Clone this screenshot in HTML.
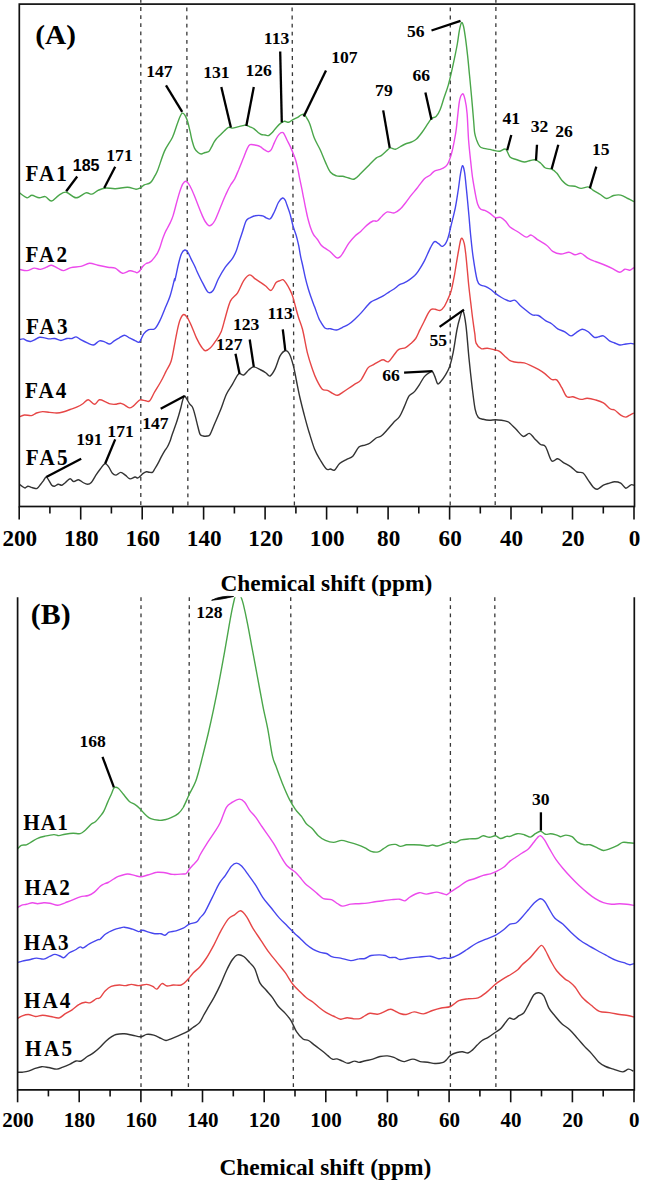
<!DOCTYPE html><html><head><meta charset="utf-8"><style>html,body{margin:0;padding:0;background:#fff;}svg{display:block;}text{font-family:"Liberation Serif",serif;font-weight:bold;fill:#000;}</style></head><body>
<svg width="653" height="1182" viewBox="0 0 653 1182">
<rect width="653" height="1182" fill="#fff"/>
<defs><clipPath id="cb"><rect x="0" y="597.3" width="653" height="600"/></clipPath></defs>
<line x1="140.8" y1="0.0" x2="140.8" y2="506" stroke-dashoffset="1.0" stroke="#383838" stroke-width="1.3" stroke-dasharray="3.8,4.3" fill="none"/>
<line x1="186.8" y1="4.5" x2="187.9" y2="506" stroke-dashoffset="-3.0" stroke="#383838" stroke-width="1.3" stroke-dasharray="3.8,4.3" fill="none"/>
<line x1="292.1" y1="4.5" x2="294.4" y2="506" stroke-dashoffset="-3.0" stroke="#383838" stroke-width="1.3" stroke-dasharray="3.8,4.3" fill="none"/>
<line x1="450.3" y1="4.5" x2="450.2" y2="506" stroke-dashoffset="-3.0" stroke="#383838" stroke-width="1.3" stroke-dasharray="3.8,4.3" fill="none"/>
<line x1="495.9" y1="0.0" x2="495.2" y2="506" stroke-dashoffset="1.0" stroke="#383838" stroke-width="1.3" stroke-dasharray="3.8,4.3" fill="none"/>
<line x1="141.0" y1="597.2" x2="141.0" y2="1089" stroke="#383838" stroke-width="1.3" stroke-dasharray="3.8,4.3" fill="none"/>
<line x1="189.3" y1="597.2" x2="188.4" y2="1089" stroke="#383838" stroke-width="1.3" stroke-dasharray="3.8,4.3" fill="none"/>
<line x1="290.7" y1="597.2" x2="293.4" y2="1089" stroke="#383838" stroke-width="1.3" stroke-dasharray="3.8,4.3" fill="none"/>
<line x1="450.4" y1="597.2" x2="450.4" y2="1089" stroke="#383838" stroke-width="1.3" stroke-dasharray="3.8,4.3" fill="none"/>
<line x1="494.8" y1="597.2" x2="495.9" y2="1089" stroke="#383838" stroke-width="1.3" stroke-dasharray="3.8,4.3" fill="none"/>
<path d="M19.6,192.9 C20.8,193.7 24.9,197.4 27.0,197.8 C29.1,198.2 29.9,195.3 31.9,195.3 C33.9,195.3 37.0,197.6 39.2,197.8 C41.4,198.0 43.2,196.1 45.3,196.6 C47.3,197.1 49.2,201.2 51.5,201.0 C53.8,200.8 56.3,196.8 58.8,195.3 C61.2,193.8 63.3,191.8 66.2,192.2 C69.1,192.6 72.7,197.7 76.0,197.8 C79.3,197.9 83.1,193.5 85.8,192.9 C88.5,192.3 89.9,194.5 91.9,194.1 C93.9,193.7 95.8,191.4 98.0,190.4 C100.2,189.4 102.5,188.3 105.4,188.0 C108.3,187.7 111.5,188.8 115.2,188.7 C118.9,188.6 124.0,187.2 127.5,187.3 C131.0,187.4 133.8,189.1 136.0,189.2 C138.2,189.3 139.2,188.4 140.6,187.7 C142.0,187.0 142.9,185.6 144.3,184.9 C145.7,184.2 147.8,184.1 149.0,183.5 C150.2,182.9 150.7,182.5 151.7,181.2 C152.7,179.9 154.0,177.5 155.0,175.6 C156.0,173.7 156.2,174.0 157.8,170.0 C159.4,166.0 162.0,156.9 164.4,151.4 C166.8,145.9 170.3,141.9 172.5,137.2 C174.7,132.4 176.0,126.9 177.6,122.9 C179.2,118.9 180.7,113.9 182.2,113.2 C183.7,112.5 185.4,115.9 186.7,118.9 C188.0,121.9 189.1,127.6 190.0,131.2 C190.9,134.8 191.2,137.4 192.0,140.3 C192.8,143.2 193.6,146.4 194.6,148.4 C195.6,150.4 197.0,151.6 198.1,152.5 C199.2,153.4 200.0,154.0 201.2,154.0 C202.4,154.0 203.9,152.9 205.2,152.5 C206.5,152.1 207.8,152.3 208.8,151.5 C209.8,150.7 210.5,148.9 211.3,147.4 C212.2,145.9 213.1,143.7 213.9,142.3 C214.8,140.9 215.3,140.1 216.4,138.8 C217.5,137.5 219.2,136.0 220.5,134.7 C221.8,133.3 223.2,131.9 224.5,130.7 C225.8,129.5 227.2,127.7 228.6,127.3 C229.9,126.9 231.1,128.2 232.6,128.1 C234.1,128.0 236.0,127.3 237.7,126.9 C239.4,126.5 241.5,125.9 242.8,125.6 C244.2,125.3 244.6,124.9 245.8,125.1 C247.0,125.3 248.6,126.3 250.0,126.9 C251.4,127.5 252.8,128.0 254.1,128.9 C255.4,129.8 256.9,131.6 258.1,132.5 C259.3,133.4 260.0,134.1 261.2,134.5 C262.4,134.9 263.9,134.8 265.2,135.0 C266.5,135.2 267.6,135.9 268.8,135.5 C270.0,135.1 271.0,133.8 272.3,132.5 C273.6,131.2 275.0,128.9 276.4,127.4 C277.8,125.9 279.1,124.4 280.5,123.4 C281.9,122.4 283.1,121.5 284.5,121.3 C285.9,121.1 287.2,122.5 288.6,122.3 C290.0,122.0 291.1,120.6 292.6,119.8 C294.1,119.0 296.3,118.1 297.7,117.3 C299.1,116.5 299.8,115.7 300.8,115.2 C301.8,114.7 302.8,113.7 303.8,114.2 C304.8,114.7 305.9,116.6 306.9,118.3 C307.9,120.0 308.8,121.2 310.0,124.4 C311.2,127.7 312.5,133.5 314.2,137.8 C315.9,142.1 318.4,145.9 320.3,150.0 C322.2,154.1 323.7,158.4 325.4,162.1 C327.1,165.8 328.6,170.0 330.5,172.3 C332.4,174.6 334.5,175.2 336.5,175.9 C338.5,176.6 340.6,176.0 342.6,176.3 C344.6,176.7 346.7,177.6 348.7,178.0 C350.7,178.4 352.4,179.8 354.4,179.0 C356.4,178.2 358.5,175.6 360.9,173.3 C363.3,171.0 366.5,167.7 369.0,165.2 C371.5,162.7 374.1,159.7 376.1,158.1 C378.1,156.5 379.5,156.8 381.2,155.6 C382.9,154.4 384.8,152.3 386.3,151.0 C387.8,149.7 388.9,148.2 390.4,147.9 C391.9,147.6 393.7,149.5 395.4,149.3 C397.1,149.1 398.9,147.4 400.5,146.5 C402.1,145.6 403.5,144.8 405.3,144.0 C407.1,143.2 409.5,142.8 411.4,142.0 C413.3,141.2 414.7,140.7 416.5,139.0 C418.3,137.3 420.3,134.7 422.3,132.0 C424.3,129.3 426.8,125.1 428.4,122.8 C430.0,120.5 430.7,119.1 432.0,118.1 C433.3,117.1 434.7,118.0 436.1,116.6 C437.5,115.2 438.9,112.7 440.2,109.5 C441.5,106.3 442.8,101.4 444.2,97.3 C445.6,93.2 447.1,89.2 448.3,85.1 C449.5,81.0 450.3,77.3 451.3,72.9 C452.3,68.5 453.4,63.6 454.4,58.7 C455.4,53.8 456.6,48.2 457.4,43.5 C458.2,38.8 458.7,33.8 459.4,30.3 C460.1,26.8 460.8,23.4 461.5,22.7 C462.2,22.0 462.8,23.6 463.5,26.2 C464.2,28.8 464.8,33.5 465.5,38.4 C466.2,43.3 466.9,49.4 467.6,55.7 C468.3,62.0 468.9,69.1 469.6,76.0 C470.3,82.9 470.9,89.7 471.6,97.3 C472.3,104.9 473.2,115.7 473.7,121.7 C474.2,127.7 474.2,130.1 474.7,133.2 C475.2,136.3 475.9,138.1 476.7,140.3 C477.5,142.5 478.5,145.1 479.7,146.4 C480.9,147.8 482.1,147.9 483.8,148.4 C485.5,148.9 488.4,149.1 490.0,149.4 C491.6,149.7 491.8,150.0 493.4,150.3 C495.0,150.6 497.5,151.5 499.5,151.3 C501.5,151.1 503.9,148.3 505.6,149.2 C507.4,150.1 508.2,155.2 510.0,156.9 C511.8,158.6 513.7,158.7 516.1,159.5 C518.5,160.3 521.8,161.8 524.2,162.0 C526.6,162.2 528.4,160.8 530.3,160.5 C532.2,160.2 533.7,159.5 535.4,159.9 C537.1,160.3 538.8,161.7 540.5,163.0 C542.2,164.3 543.6,167.0 545.5,168.0 C547.4,169.0 549.7,168.2 551.6,169.1 C553.5,169.9 555.0,171.2 556.7,173.1 C558.4,174.9 559.9,178.2 561.8,180.2 C563.7,182.2 565.7,184.3 567.9,185.3 C570.1,186.3 572.8,185.8 575.0,186.3 C577.2,186.8 578.9,188.3 581.1,188.4 C583.3,188.5 586.2,186.6 588.2,186.9 C590.2,187.2 591.3,189.1 593.3,190.4 C595.3,191.7 598.2,193.2 600.4,194.5 C602.6,195.8 604.3,198.3 606.5,198.5 C608.7,198.7 611.2,196.1 613.6,195.5 C616.0,194.9 618.3,194.6 620.7,195.1 C623.1,195.6 625.6,197.4 627.8,198.5 C630.0,199.6 632.9,201.1 633.9,201.6" fill="none" stroke="#4aa64a" stroke-width="1.40" stroke-linejoin="round"/>
<path d="M19.6,269.4 C20.8,269.6 24.6,270.8 27.0,270.6 C29.4,270.4 32.1,268.3 34.3,268.1 C36.5,267.9 38.3,269.5 40.4,269.4 C42.5,269.2 44.8,267.9 46.6,267.2 C48.5,266.5 49.7,265.0 51.5,265.2 C53.3,265.4 55.6,267.2 57.6,268.1 C59.6,269.0 61.5,270.7 63.7,270.6 C65.9,270.5 68.1,268.3 71.0,267.6 C73.9,266.9 77.8,267.1 80.9,266.4 C84.0,265.7 86.7,263.4 89.5,263.2 C92.3,263.0 95.0,264.5 98.0,265.2 C101.0,265.9 104.9,266.7 107.8,267.2 C110.7,267.7 112.8,267.1 115.2,268.1 C117.7,269.1 120.0,272.9 122.5,273.3 C125.0,273.8 127.8,271.0 129.9,270.8 C132.0,270.6 133.8,271.6 135.0,271.9 C136.2,272.2 136.2,272.9 136.9,272.8 C137.6,272.7 138.5,272.0 139.2,271.4 C139.9,270.8 140.3,270.0 141.0,269.1 C141.7,268.2 142.5,266.7 143.4,265.8 C144.3,264.9 145.3,264.0 146.2,263.5 C147.1,263.0 148.1,263.1 149.0,262.6 C149.9,262.1 150.8,261.6 151.7,260.7 C152.6,259.8 153.6,258.6 154.5,257.4 C155.4,256.2 156.4,254.9 157.3,253.3 C158.2,251.8 158.9,250.2 159.7,248.1 C160.5,246.0 161.2,243.2 162.0,240.7 C162.8,238.2 163.9,235.5 164.8,233.3 C165.7,231.1 166.7,229.5 167.6,227.7 C168.5,225.9 169.4,224.6 170.3,222.6 C171.2,220.6 172.2,218.5 173.1,215.6 C174.0,212.7 175.0,208.7 175.9,205.3 C176.8,201.9 177.8,198.2 178.7,195.1 C179.6,192.0 180.6,188.9 181.5,186.7 C182.4,184.5 183.5,182.9 184.3,182.1 C185.2,181.2 185.7,180.9 186.6,181.6 C187.5,182.2 188.8,183.8 190.0,186.0 C191.2,188.2 192.8,191.9 194.1,195.1 C195.4,198.3 196.8,201.9 198.1,205.3 C199.4,208.7 201.0,212.7 202.2,215.4 C203.4,218.1 204.1,219.8 205.2,221.5 C206.3,223.2 207.7,225.1 208.8,225.6 C209.9,226.1 210.8,225.4 211.8,224.6 C212.8,223.8 213.8,222.5 214.9,220.5 C216.0,218.5 217.1,215.5 218.4,212.4 C219.7,209.3 221.2,205.4 222.5,202.2 C223.8,199.0 225.2,196.0 226.5,193.1 C227.8,190.2 229.2,187.4 230.6,185.0 C232.0,182.6 233.3,181.5 234.7,178.9 C236.0,176.3 237.3,172.9 238.7,169.7 C240.0,166.5 241.4,163.0 242.8,159.6 C244.2,156.2 245.7,151.9 246.9,149.4 C248.1,146.9 248.5,145.4 250.0,144.7 C251.5,144.0 254.4,144.9 256.1,145.2 C257.8,145.5 258.9,145.9 260.2,146.7 C261.5,147.4 262.8,148.8 264.2,149.7 C265.6,150.5 267.1,151.8 268.3,151.8 C269.5,151.8 270.3,151.2 271.3,149.7 C272.3,148.2 273.4,144.8 274.4,142.6 C275.4,140.4 276.4,138.1 277.4,136.5 C278.4,134.9 279.5,133.6 280.5,133.0 C281.5,132.4 282.4,131.8 283.5,133.0 C284.6,134.2 285.9,137.8 287.0,140.0 C288.1,142.2 289.1,143.9 290.1,146.1 C291.1,148.3 292.2,150.8 293.1,153.2 C294.0,155.6 294.9,157.8 295.7,160.3 C296.5,162.8 297.0,165.4 297.7,168.4 C298.4,171.4 299.0,175.2 299.7,178.6 C300.4,182.0 301.1,185.3 301.8,188.7 C302.5,192.1 303.1,195.5 303.8,198.9 C304.5,202.3 305.1,205.8 305.8,209.0 C306.5,212.2 307.0,215.1 307.8,218.2 C308.6,221.2 309.5,224.6 310.4,227.3 C311.3,230.0 312.2,232.4 313.4,234.4 C314.6,236.4 316.1,237.6 317.5,239.5 C318.9,241.4 320.2,244.2 321.5,245.6 C322.8,247.0 323.6,247.1 325.0,248.1 C326.4,249.1 328.2,250.1 329.7,251.3 C331.2,252.5 332.6,254.2 333.8,255.3 C335.0,256.4 335.9,257.6 336.9,257.9 C337.9,258.2 339.1,257.6 340.0,256.9 C340.9,256.2 341.2,255.8 342.6,253.5 C344.1,251.2 346.7,246.3 348.7,243.4 C350.7,240.5 352.8,238.2 354.8,236.2 C356.8,234.2 358.9,233.0 360.9,231.2 C362.9,229.3 365.0,226.8 367.0,225.1 C369.0,223.4 371.4,221.7 373.1,221.0 C374.8,220.3 375.7,221.8 377.2,221.0 C378.7,220.2 380.5,217.5 382.2,216.0 C383.9,214.5 385.3,212.4 387.3,211.9 C389.3,211.4 392.2,213.4 394.4,212.9 C396.6,212.4 398.6,210.5 400.5,208.8 C402.4,207.1 403.7,205.1 405.6,202.7 C407.5,200.3 409.8,197.0 411.7,194.6 C413.6,192.2 414.7,191.2 416.8,188.5 C418.9,185.8 422.2,180.9 424.4,178.7 C426.6,176.5 428.4,176.5 430.0,175.3 C431.6,174.1 432.6,172.2 434.1,171.3 C435.6,170.4 437.6,170.2 439.1,169.7 C440.6,169.2 441.8,169.0 443.2,168.2 C444.6,167.4 446.1,166.5 447.3,164.7 C448.5,162.9 449.5,160.0 450.3,157.6 C451.1,155.2 451.6,153.4 452.3,150.5 C453.0,147.6 453.7,144.0 454.4,140.3 C455.1,136.6 455.6,134.6 456.4,128.1 C457.2,121.6 458.4,107.1 459.4,101.4 C460.4,95.7 461.6,94.2 462.5,93.8 C463.4,93.4 464.2,96.0 465.0,99.3 C465.8,102.6 466.5,106.8 467.1,113.6 C467.7,120.4 468.0,132.5 468.6,140.3 C469.2,148.1 469.9,154.3 470.6,160.6 C471.3,166.9 471.8,172.5 472.6,177.9 C473.4,183.3 474.4,188.7 475.2,193.1 C476.0,197.5 476.8,201.6 477.7,204.3 C478.6,207.0 479.6,208.3 480.8,209.3 C482.0,210.3 483.3,209.7 484.8,210.4 C486.3,211.1 488.2,212.2 490.0,213.4 C491.8,214.6 493.6,217.0 495.4,217.7 C497.1,218.3 498.8,216.7 500.5,217.3 C502.2,217.9 504.0,219.7 505.6,221.3 C507.2,222.9 507.9,225.2 510.0,227.0 C512.1,228.8 515.4,230.3 518.1,232.0 C520.8,233.7 524.0,236.6 526.2,237.1 C528.4,237.6 529.3,234.6 531.3,235.1 C533.3,235.6 535.8,238.5 538.4,240.2 C541.0,241.9 544.2,243.3 546.6,245.2 C549.0,247.0 550.3,249.8 552.7,251.3 C555.1,252.8 558.1,253.8 560.8,254.0 C563.5,254.2 566.5,252.2 568.9,252.3 C571.3,252.4 573.0,254.6 575.0,254.8 C577.0,255.0 578.9,252.8 581.1,253.4 C583.3,254.0 585.8,257.0 588.2,258.4 C590.6,259.8 592.8,260.5 595.3,261.5 C597.8,262.5 600.5,263.3 603.4,264.5 C606.3,265.7 609.9,267.3 612.6,268.6 C615.3,269.9 617.7,272.2 619.7,272.3 C621.7,272.4 623.1,269.6 624.8,269.2 C626.5,268.8 628.3,270.5 629.8,270.2 C631.3,269.9 633.2,268.0 633.9,267.6" fill="none" stroke="#ec4aec" stroke-width="1.40" stroke-linejoin="round"/>
<path d="M19.7,339.5 C20.3,339.4 22.3,338.7 23.4,338.9 C24.5,339.1 25.2,340.1 26.4,340.5 C27.6,340.9 29.1,341.6 30.5,341.5 C31.9,341.4 33.0,340.6 34.5,339.9 C36.0,339.2 37.9,337.6 39.6,337.3 C41.3,337.0 43.0,337.6 44.7,337.9 C46.4,338.2 48.0,338.8 49.7,338.9 C51.4,339.0 52.9,338.2 54.8,338.5 C56.7,338.8 58.9,340.5 60.9,340.5 C62.9,340.5 65.1,338.8 67.0,338.5 C68.9,338.2 70.6,338.8 72.1,338.5 C73.6,338.2 74.6,336.7 76.1,336.9 C77.6,337.1 79.3,338.9 81.2,339.9 C83.1,340.9 85.3,342.0 87.3,342.9 C89.3,343.8 91.4,345.3 93.4,345.0 C95.4,344.7 97.6,341.4 99.5,340.9 C101.4,340.4 102.9,341.4 104.6,341.9 C106.3,342.4 108.0,344.2 109.6,344.0 C111.2,343.8 112.6,341.9 114.2,340.9 C115.8,339.9 117.6,338.8 119.3,337.9 C121.0,336.9 122.7,335.2 124.4,335.2 C126.1,335.2 127.6,336.9 129.4,337.9 C131.2,338.8 133.8,340.2 135.5,340.9 C137.2,341.6 138.2,343.1 139.6,341.9 C141.0,340.7 142.2,335.8 143.7,333.8 C145.2,331.8 146.8,330.6 148.7,329.7 C150.5,328.8 152.9,330.2 154.8,328.7 C156.7,327.2 158.2,324.0 159.9,320.6 C161.6,317.2 163.3,312.5 165.0,308.4 C166.7,304.3 168.4,301.0 170.0,296.2 C171.6,291.4 173.7,282.0 174.5,279.3 C175.3,276.6 174.3,282.7 175.0,280.0 C175.7,277.3 177.6,267.4 178.7,263.0 C179.8,258.6 180.5,255.9 181.5,253.7 C182.5,251.5 183.8,250.3 184.8,250.0 C185.8,249.7 186.6,250.5 187.6,251.9 C188.6,253.3 189.6,255.9 190.8,258.4 C192.0,260.9 194.0,264.6 195.0,266.7 C196.0,268.8 195.6,268.4 196.9,271.2 C198.2,274.0 201.0,279.9 202.9,283.4 C204.8,286.9 206.4,291.0 208.1,292.2 C209.8,293.4 211.4,292.7 213.1,290.5 C214.8,288.3 216.3,282.9 218.3,279.0 C220.3,275.1 222.9,270.6 225.3,267.1 C227.7,263.7 230.6,261.1 232.5,258.3 C234.4,255.5 235.3,253.2 236.5,250.2 C237.7,247.1 238.6,243.2 239.7,240.0 C240.8,236.8 241.8,233.8 242.8,230.7 C243.8,227.6 244.9,223.5 245.8,221.5 C246.7,219.5 247.7,219.1 248.4,218.5 C249.1,217.9 248.9,218.3 250.0,217.8 C251.1,217.3 253.1,216.0 255.1,215.7 C257.1,215.3 260.3,215.3 262.2,215.7 C264.1,216.0 264.8,217.3 266.2,217.8 C267.6,218.3 268.9,219.8 270.3,218.8 C271.7,217.8 273.0,214.4 274.4,211.7 C275.8,209.0 277.0,204.8 278.4,202.5 C279.8,200.2 281.4,198.4 282.5,198.0 C283.6,197.6 284.2,198.7 285.0,199.9 C285.8,201.1 286.1,202.6 287.0,205.0 C287.9,207.4 289.1,210.5 290.1,214.1 C291.1,217.7 292.1,222.8 293.1,226.3 C294.1,229.9 295.3,232.2 296.2,235.4 C297.1,238.6 297.9,242.0 298.7,245.6 C299.4,249.2 300.0,253.4 300.7,256.8 C301.4,260.2 302.0,262.4 302.8,266.0 C303.6,269.6 304.5,274.3 305.4,278.2 C306.3,282.1 307.4,285.9 308.4,289.3 C309.4,292.7 310.5,295.6 311.5,298.5 C312.5,301.4 313.3,303.4 314.5,306.6 C315.7,309.8 317.6,315.4 318.6,317.8 C319.6,320.2 319.2,319.4 320.3,321.2 C321.4,322.9 323.7,327.1 325.4,328.3 C327.1,329.6 328.6,328.4 330.5,328.7 C332.4,329.0 334.5,330.2 336.5,330.0 C338.5,329.8 340.6,328.2 342.6,327.3 C344.6,326.4 346.7,325.7 348.7,324.3 C350.7,322.9 352.8,321.1 354.8,319.2 C356.8,317.3 358.9,315.3 360.9,313.1 C362.9,310.9 365.3,307.9 367.0,306.0 C368.7,304.1 369.4,303.1 371.1,301.9 C372.8,300.7 375.2,299.9 377.2,298.9 C379.2,297.9 381.2,297.0 383.2,295.8 C385.2,294.6 387.4,293.0 389.3,291.8 C391.2,290.6 392.7,289.9 394.4,288.7 C396.1,287.5 397.8,285.7 399.5,284.7 C401.2,283.7 402.9,283.5 404.6,282.6 C406.3,281.8 407.9,280.8 409.6,279.6 C411.3,278.4 413.2,276.9 414.7,275.5 C416.1,274.1 416.7,273.5 418.3,271.1 C419.9,268.7 422.4,264.8 424.4,260.9 C426.4,257.0 428.8,250.9 430.5,247.7 C432.2,244.5 433.1,242.3 434.5,241.6 C435.9,240.9 437.2,242.9 438.6,243.7 C440.0,244.5 441.2,246.9 442.6,246.3 C444.1,245.7 445.9,243.6 447.3,240.0 C448.8,236.4 450.0,230.0 451.3,224.6 C452.6,219.2 454.2,213.2 455.4,207.3 C456.6,201.4 457.5,194.6 458.4,189.0 C459.2,183.4 459.8,177.7 460.5,173.8 C461.2,169.9 461.8,166.0 462.5,165.7 C463.2,165.4 463.9,168.6 464.5,171.8 C465.1,175.0 465.5,180.1 466.0,185.0 C466.5,189.9 467.1,195.8 467.6,201.2 C468.1,206.6 468.6,211.9 469.1,217.5 C469.6,223.1 469.9,228.1 470.6,234.7 C471.3,241.3 472.0,249.3 473.1,256.9 C474.2,264.5 475.9,275.5 477.2,280.2 C478.5,284.9 479.8,284.3 481.2,285.3 C482.6,286.3 483.8,285.6 485.3,286.3 C486.8,287.0 488.7,288.1 490.4,289.3 C492.1,290.5 493.5,292.0 495.4,293.4 C497.2,294.8 499.5,296.3 501.5,297.5 C503.5,298.7 506.2,299.9 507.6,300.5 C509.0,301.1 508.8,301.3 510.0,301.3 C511.2,301.3 513.4,299.6 515.1,300.3 C516.8,301.0 518.3,303.7 520.2,305.4 C522.1,307.1 524.3,308.9 526.3,310.5 C528.3,312.1 530.3,314.1 532.3,314.9 C534.3,315.7 536.2,314.6 538.4,315.5 C540.6,316.4 543.3,319.2 545.5,320.6 C547.7,322.0 549.6,322.3 551.6,323.7 C553.6,325.1 555.5,327.4 557.7,328.8 C559.9,330.2 562.6,330.6 564.8,331.8 C567.0,333.0 569.0,335.7 570.9,335.9 C572.8,336.1 574.1,333.9 576.0,332.8 C577.9,331.7 580.1,329.4 582.1,329.2 C584.1,329.0 586.2,330.4 588.2,331.8 C590.2,333.2 592.6,336.5 594.3,337.3 C596.0,338.1 596.9,337.1 598.4,336.9 C599.9,336.7 601.5,335.2 603.4,335.9 C605.2,336.6 607.6,339.7 609.5,340.9 C611.4,342.1 612.9,342.3 614.6,343.0 C616.3,343.7 617.8,344.8 619.7,345.0 C621.6,345.2 623.9,344.3 625.8,344.0 C627.7,343.7 629.5,343.4 630.9,343.4 C632.2,343.4 633.4,343.9 633.9,344.0" fill="none" stroke="#4646ee" stroke-width="1.40" stroke-linejoin="round"/>
<path d="M19.7,416.7 C20.5,416.4 22.4,415.2 24.4,415.0 C26.4,414.8 29.5,415.9 31.5,415.6 C33.5,415.3 34.6,413.7 36.5,413.0 C38.4,412.3 40.4,411.7 42.6,411.6 C44.8,411.5 47.3,412.2 49.7,412.4 C52.1,412.6 54.7,413.1 56.9,413.0 C59.1,412.9 60.7,412.6 62.9,412.0 C65.1,411.4 67.7,410.4 70.1,409.5 C72.5,408.6 75.0,407.9 77.2,406.9 C79.4,405.9 81.4,404.7 83.2,403.5 C85.0,402.3 86.4,399.7 88.3,399.8 C90.2,399.9 92.5,404.3 94.4,404.3 C96.3,404.3 97.6,400.2 99.5,399.8 C101.4,399.4 103.8,401.1 105.6,401.8 C107.4,402.5 108.6,403.5 110.2,403.9 C111.8,404.3 113.5,404.4 115.2,404.3 C116.9,404.2 118.8,403.1 120.3,403.2 C121.8,403.3 122.9,404.1 124.4,404.9 C125.9,405.7 127.9,407.7 129.4,407.9 C130.9,408.1 132.1,406.9 133.5,405.9 C134.9,404.9 136.4,402.8 137.6,401.8 C138.8,400.8 139.2,400.0 140.6,399.8 C141.9,399.6 144.2,400.6 145.7,400.8 C147.2,401.0 148.2,402.3 149.7,400.8 C151.2,399.3 152.9,394.9 154.8,391.7 C156.7,388.5 159.0,384.9 160.9,381.5 C162.8,378.1 164.3,374.8 166.0,371.4 C167.7,368.0 169.8,365.3 171.1,361.2 C172.4,357.1 173.1,352.1 174.1,347.0 C175.1,341.9 176.2,335.4 177.2,330.8 C178.2,326.2 179.1,322.3 180.2,319.6 C181.3,316.9 182.5,314.8 183.7,314.5 C184.9,314.2 186.0,315.7 187.3,317.6 C188.6,319.5 189.9,322.3 191.4,325.7 C192.9,329.1 194.7,334.3 196.4,337.9 C198.1,341.4 200.0,344.9 201.5,347.0 C203.0,349.1 203.8,350.6 205.3,350.7 C206.8,350.8 208.7,349.5 210.5,347.8 C212.3,346.1 214.1,343.4 215.9,340.7 C217.7,338.0 219.7,335.3 221.3,331.4 C222.9,327.5 223.9,322.3 225.4,317.2 C226.9,312.1 228.5,305.0 230.5,300.9 C232.5,296.8 235.4,296.2 237.6,292.8 C239.8,289.4 241.7,283.6 243.7,280.6 C245.7,277.6 247.8,275.2 249.7,274.9 C251.5,274.6 252.9,277.3 254.8,278.6 C256.7,279.9 259.0,281.3 260.9,282.6 C262.8,283.9 264.3,285.0 266.0,286.3 C267.7,287.6 269.4,291.0 271.1,290.4 C272.8,289.8 274.6,284.2 276.1,282.6 C277.6,281.0 278.9,281.2 280.0,280.7 C281.1,280.2 282.0,279.3 283.0,279.7 C284.0,280.1 284.9,281.4 286.1,283.2 C287.3,285.0 289.1,288.2 290.2,290.4 C291.3,292.6 291.9,293.9 292.7,296.4 C293.5,298.9 294.3,302.2 295.2,305.6 C296.1,309.0 297.1,312.9 298.3,316.8 C299.5,320.8 300.9,323.2 302.5,329.3 C304.1,335.4 305.9,346.9 307.6,353.7 C309.3,360.5 311.2,365.6 312.7,370.0 C314.2,374.4 315.2,376.9 316.8,380.1 C318.4,383.3 320.5,387.5 322.3,389.2 C324.1,390.9 325.7,389.6 327.4,390.3 C329.1,391.0 330.8,392.5 332.5,393.3 C334.2,394.1 335.9,395.5 337.6,395.3 C339.3,395.1 340.8,393.5 342.6,392.3 C344.5,391.1 346.7,389.6 348.7,388.2 C350.7,386.8 352.8,385.5 354.8,384.2 C356.8,382.9 358.7,382.8 360.9,380.1 C363.1,377.4 366.0,370.4 368.0,367.9 C370.0,365.4 371.4,365.9 373.1,364.9 C374.8,363.9 376.5,362.6 378.2,361.8 C379.9,361.0 381.5,359.8 383.2,359.8 C384.9,359.8 386.6,362.5 388.3,361.8 C390.0,361.1 391.7,357.7 393.4,355.7 C395.1,353.7 396.5,351.0 398.5,349.6 C400.5,348.2 403.6,348.6 405.6,347.6 C407.6,346.6 409.0,345.1 410.7,343.6 C412.4,342.1 414.1,340.8 415.7,338.5 C417.2,336.2 418.6,332.4 420.0,329.6 C421.4,326.8 422.8,324.2 424.1,321.5 C425.5,318.8 426.9,315.4 428.1,313.4 C429.3,311.4 430.0,310.0 431.2,309.3 C432.4,308.6 433.7,309.1 435.2,309.3 C436.7,309.5 438.8,310.9 440.3,310.4 C441.8,309.9 443.2,308.0 444.4,306.3 C445.6,304.6 446.4,302.4 447.4,300.2 C448.4,298.0 449.6,295.6 450.5,293.1 C451.4,290.6 451.8,288.1 452.5,285.0 C453.2,281.9 453.8,278.5 454.5,274.8 C455.2,271.1 455.8,266.7 456.5,262.6 C457.2,258.6 457.9,254.2 458.6,250.5 C459.3,246.8 460.0,242.3 460.6,240.3 C461.2,238.3 461.5,237.8 462.1,238.3 C462.7,238.8 463.6,240.9 464.2,243.4 C464.8,245.9 465.2,249.3 465.7,253.5 C466.2,257.7 466.7,263.4 467.2,268.7 C467.7,273.9 468.1,279.2 468.7,285.0 C469.3,290.8 470.1,297.4 470.8,303.2 C471.5,308.9 472.1,314.4 472.8,319.5 C473.5,324.6 474.2,329.8 474.8,333.7 C475.4,337.6 475.0,340.6 476.1,343.1 C477.2,345.6 479.3,347.8 481.2,348.6 C483.1,349.5 485.1,348.0 487.3,348.2 C489.5,348.4 492.4,349.3 494.4,349.8 C496.4,350.3 497.8,350.3 499.5,351.3 C501.2,352.3 502.9,354.4 504.6,355.9 C506.3,357.4 507.9,359.4 509.6,360.4 C511.3,361.4 513.1,361.6 514.7,362.0 C516.3,362.4 517.4,362.4 519.0,362.5 C520.6,362.6 522.3,362.4 524.2,362.9 C526.1,363.4 527.9,364.2 530.3,365.3 C532.7,366.4 536.0,368.0 538.4,369.4 C540.8,370.8 542.3,371.7 544.5,373.4 C546.7,375.1 549.6,378.4 551.6,379.5 C553.6,380.6 555.0,378.5 556.7,379.9 C558.4,381.3 560.1,384.9 561.8,387.7 C563.5,390.5 565.0,395.3 566.9,396.8 C568.8,398.3 570.6,396.4 573.0,396.8 C575.4,397.2 578.7,399.2 581.1,399.4 C583.5,399.6 584.8,398.1 587.2,398.2 C589.6,398.3 592.6,399.0 595.3,399.8 C598.0,400.6 600.9,401.4 603.4,402.9 C605.9,404.4 608.6,407.8 610.5,409.0 C612.4,410.2 612.9,409.0 614.6,410.0 C616.3,411.0 618.8,413.9 620.7,415.1 C622.6,416.3 624.3,417.1 625.8,417.1 C627.3,417.1 628.4,415.8 629.8,415.1 C631.1,414.4 633.2,413.4 633.9,413.0" fill="none" stroke="#e64646" stroke-width="1.40" stroke-linejoin="round"/>
<path d="M19.6,484.3 C20.1,484.7 21.5,485.9 22.4,486.5 C23.3,487.1 24.2,488.1 25.1,488.0 C26.0,487.9 27.0,486.3 27.9,486.2 C28.8,486.1 29.7,486.8 30.6,487.1 C31.5,487.4 32.3,487.8 33.4,488.0 C34.5,488.2 35.9,489.0 37.1,488.4 C38.3,487.8 39.6,485.6 40.7,484.3 C41.8,483.0 42.6,481.8 43.5,480.6 C44.4,479.4 45.3,477.0 46.2,477.0 C47.1,477.0 48.1,479.2 49.0,480.6 C49.9,482.0 50.9,484.3 51.8,485.2 C52.7,486.1 53.4,486.3 54.5,486.2 C55.6,486.1 57.0,484.5 58.2,484.3 C59.4,484.1 60.7,485.5 61.9,485.2 C63.1,484.9 64.1,483.6 65.5,482.5 C66.9,481.4 68.7,478.9 70.1,478.8 C71.5,478.7 72.4,481.5 73.8,481.6 C75.2,481.8 76.9,479.6 78.4,479.7 C79.9,479.8 81.5,481.7 83.0,482.5 C84.5,483.3 86.2,484.3 87.6,484.3 C89.0,484.3 89.9,484.0 91.3,482.5 C92.7,481.0 94.4,477.4 95.9,475.1 C97.4,472.8 99.0,470.6 100.5,468.7 C102.0,466.8 103.6,464.0 105.0,463.7 C106.4,463.4 107.5,465.3 108.7,466.9 C109.9,468.5 111.2,471.9 112.4,473.3 C113.6,474.7 114.7,475.2 116.1,475.1 C117.5,475.0 119.2,472.4 120.7,472.4 C122.2,472.4 123.8,474.0 125.3,475.1 C126.8,476.2 128.3,478.5 129.9,478.8 C131.5,479.1 133.7,477.1 135.0,477.0 C136.3,476.9 136.8,478.1 137.6,478.0 C138.4,477.9 139.1,477.1 140.0,476.4 C140.9,475.7 141.7,474.4 142.8,473.6 C143.9,472.8 145.3,472.0 146.4,471.8 C147.5,471.6 148.2,472.2 149.2,472.3 C150.2,472.4 151.5,472.9 152.4,472.3 C153.3,471.8 153.7,470.6 154.7,469.0 C155.7,467.4 157.2,464.9 158.4,462.6 C159.6,460.3 161.0,457.3 162.1,455.3 C163.2,453.3 163.9,452.2 164.8,450.7 C165.7,449.2 166.8,448.0 167.6,446.5 C168.4,445.0 169.2,443.2 169.9,441.5 C170.6,439.8 171.0,438.0 171.7,436.0 C172.4,434.0 173.2,431.6 174.0,429.5 C174.8,427.4 175.5,425.4 176.3,423.1 C177.1,420.8 177.8,418.3 178.6,415.7 C179.4,413.1 180.2,410.1 180.9,407.5 C181.6,404.9 182.1,402.0 182.7,400.1 C183.3,398.2 183.9,396.1 184.6,396.0 C185.3,395.9 186.1,397.9 186.9,399.2 C187.7,400.5 188.7,402.5 189.6,403.8 C190.5,405.1 191.6,405.6 192.4,407.0 C193.2,408.4 193.6,410.0 194.2,412.1 C194.8,414.2 195.5,416.9 196.1,419.4 C196.7,421.8 197.2,424.3 197.9,426.8 C198.6,429.3 199.2,432.8 200.1,434.3 C201.0,435.8 202.2,435.7 203.3,436.0 C204.5,436.3 205.9,436.2 207.0,436.0 C208.1,435.8 208.8,436.5 210.0,434.6 C211.2,432.7 212.5,428.8 214.2,424.8 C215.9,420.8 218.3,415.7 220.3,410.6 C222.3,405.5 224.4,398.7 226.4,394.3 C228.4,389.9 230.5,387.6 232.5,384.2 C234.5,380.8 236.7,375.5 238.6,374.0 C240.5,372.5 242.0,375.7 243.7,375.0 C245.4,374.3 247.0,371.4 248.7,370.0 C250.4,368.6 251.8,366.9 253.8,366.9 C255.8,366.9 258.9,369.0 260.9,370.0 C262.9,371.0 264.5,372.0 266.0,373.0 C267.5,374.0 268.6,376.7 270.1,376.0 C271.6,375.3 273.4,372.3 275.1,368.9 C276.8,365.5 278.5,358.7 280.2,355.7 C281.9,352.7 283.8,351.0 285.3,350.7 C286.8,350.4 288.0,351.2 289.3,353.7 C290.6,356.2 292.0,360.5 293.4,365.9 C294.8,371.3 296.4,380.8 297.5,386.2 C298.6,391.6 298.9,393.4 300.0,398.0 C301.1,402.6 302.5,408.3 304.0,414.0 C305.5,419.7 307.2,426.2 309.0,432.0 C310.8,437.8 312.7,444.4 314.5,449.0 C316.3,453.6 318.0,456.2 320.0,459.5 C322.0,462.8 324.6,467.4 326.4,469.0 C328.1,470.6 329.1,468.8 330.5,469.0 C331.9,469.2 333.0,471.0 334.5,470.1 C336.0,469.2 337.6,465.2 339.6,463.4 C341.6,461.6 344.5,460.5 346.7,459.3 C348.9,458.1 350.8,458.2 352.8,456.2 C354.8,454.2 356.9,449.0 358.9,447.1 C360.9,445.2 363.1,445.8 365.0,445.1 C366.9,444.4 368.2,444.2 370.1,443.0 C372.0,441.8 374.2,439.2 376.1,438.0 C378.0,436.8 379.3,437.4 381.2,436.0 C383.1,434.6 385.3,432.0 387.3,429.8 C389.3,427.6 391.4,424.9 393.4,422.7 C395.4,420.5 397.7,419.2 399.5,416.6 C401.3,414.0 402.5,410.6 404.1,407.1 C405.7,403.7 407.4,398.4 409.1,395.9 C410.8,393.4 412.5,393.8 414.2,391.9 C415.9,390.0 417.6,387.4 419.3,384.8 C421.0,382.2 422.7,378.6 424.4,376.6 C426.1,374.6 428.0,373.4 429.4,372.6 C430.8,371.8 431.6,370.9 432.5,371.6 C433.4,372.3 434.0,374.6 434.9,376.6 C435.8,378.6 436.7,383.0 437.6,383.8 C438.6,384.6 439.2,383.2 440.6,381.7 C442.0,380.2 444.2,377.1 445.7,374.6 C447.2,372.1 448.4,370.2 449.7,366.5 C450.9,362.8 452.0,358.4 453.2,352.3 C454.4,346.2 455.8,335.8 456.9,330.0 C458.0,324.2 458.9,321.0 459.9,317.8 C460.9,314.6 461.9,309.4 462.9,310.7 C463.9,312.0 465.0,317.9 466.0,325.9 C467.0,333.8 468.0,348.2 469.0,358.4 C470.0,368.5 471.1,378.4 472.1,386.8 C473.1,395.2 474.1,404.0 475.1,409.1 C476.1,414.2 476.9,415.6 478.2,417.3 C479.5,419.0 481.3,418.8 483.2,419.3 C485.1,419.8 487.3,420.2 489.3,420.3 C491.3,420.4 493.4,419.7 495.4,419.7 C497.4,419.7 499.5,420.0 501.5,420.3 C503.5,420.6 506.2,421.2 507.6,421.7 C509.0,422.2 508.6,421.9 510.0,423.2 C511.4,424.5 513.9,427.1 516.1,429.3 C518.3,431.5 521.0,435.7 523.2,436.4 C525.4,437.1 527.4,433.1 529.3,433.4 C531.2,433.7 532.5,436.5 534.4,438.4 C536.3,440.2 538.6,443.1 540.5,444.5 C542.4,445.9 543.6,443.9 545.5,446.6 C547.4,449.3 549.6,458.8 551.6,460.8 C553.6,462.8 555.7,458.5 557.7,458.8 C559.7,459.1 561.6,461.5 563.8,462.8 C566.0,464.1 568.7,465.4 570.9,466.9 C573.1,468.4 575.0,471.0 577.0,472.0 C579.0,473.0 581.2,471.6 583.1,473.0 C585.0,474.4 586.5,477.7 588.2,480.1 C589.9,482.5 591.8,485.7 593.3,487.2 C594.8,488.7 595.6,489.5 597.3,489.2 C599.0,488.9 601.4,486.2 603.4,485.2 C605.4,484.2 607.6,483.7 609.5,483.1 C611.4,482.5 612.7,481.7 614.6,481.7 C616.5,481.7 618.8,482.0 620.7,483.1 C622.6,484.2 624.1,487.9 625.8,488.2 C627.5,488.5 629.5,485.3 630.9,484.8 C632.2,484.3 633.4,485.1 633.9,485.2" fill="none" stroke="#333333" stroke-width="1.40" stroke-linejoin="round"/>
<path d="M17.5,849.0 C18.1,848.4 19.8,846.1 21.3,845.4 C22.8,844.7 24.7,845.4 26.4,844.8 C28.1,844.2 29.6,843.0 31.5,841.9 C33.4,840.8 35.4,839.2 37.6,838.3 C39.8,837.3 42.0,836.8 44.7,836.2 C47.4,835.6 51.4,834.7 53.8,834.6 C56.2,834.5 57.0,835.7 58.9,835.6 C60.8,835.5 62.6,834.6 65.0,834.2 C67.4,833.8 70.6,833.3 73.1,833.2 C75.6,833.1 78.2,834.1 80.2,833.6 C82.2,833.1 83.4,831.8 85.3,830.2 C87.2,828.6 89.7,825.6 91.4,824.1 C93.1,822.6 93.9,823.1 95.6,821.5 C97.3,819.9 100.1,816.4 101.5,814.6 C102.9,812.8 103.1,812.6 104.1,810.6 C105.1,808.6 106.3,805.4 107.5,802.6 C108.7,799.8 110.4,796.2 111.5,793.7 C112.6,791.2 113.1,788.7 114.2,787.8 C115.3,786.9 116.8,787.1 118.3,788.2 C119.8,789.3 121.6,792.1 123.4,794.3 C125.2,796.5 127.4,799.6 129.4,801.4 C131.4,803.2 133.6,803.5 135.5,804.9 C137.4,806.2 138.9,807.8 140.6,809.5 C142.3,811.2 144.0,813.5 145.7,815.0 C147.4,816.5 148.6,817.8 150.8,818.7 C153.0,819.6 156.5,820.1 158.9,820.3 C161.3,820.5 163.0,820.1 165.0,819.7 C167.0,819.3 168.9,818.7 171.1,817.7 C173.3,816.7 176.2,815.3 178.2,813.6 C180.2,811.9 181.3,810.7 183.2,807.5 C185.0,804.3 187.3,798.5 189.3,794.3 C191.3,790.1 193.6,786.7 195.4,782.1 C197.2,777.5 198.8,771.0 200.0,766.6 C201.2,762.2 201.3,761.3 202.7,755.9 C204.0,750.5 206.3,741.7 208.1,734.0 C209.9,726.3 211.7,718.3 213.5,709.7 C215.3,701.1 217.1,692.1 218.9,682.6 C220.7,673.1 222.8,661.6 224.4,652.8 C226.0,644.0 227.2,636.8 228.4,629.8 C229.6,622.8 230.8,616.1 231.8,610.9 C232.8,605.7 233.9,601.2 234.5,598.7 C235.1,596.2 234.9,597.5 235.5,596.0 C236.1,594.5 237.2,590.0 238.0,590.0 C238.8,590.0 239.7,593.6 240.6,596.0 C241.5,598.4 242.2,599.6 243.3,604.1 C244.4,608.6 246.1,616.3 247.4,623.1 C248.8,629.9 250.1,637.5 251.4,644.7 C252.8,651.9 254.2,659.2 255.5,666.4 C256.9,673.6 258.1,680.8 259.5,688.0 C260.9,695.2 262.2,702.9 263.6,709.7 C265.0,716.5 266.2,720.9 267.7,728.6 C269.2,736.3 271.0,749.6 272.4,755.9 C273.8,762.2 274.5,762.1 276.1,766.6 C277.7,771.1 280.0,777.5 282.2,782.9 C284.4,788.3 287.1,794.7 289.3,799.1 C291.5,803.5 293.4,806.4 295.4,809.3 C297.4,812.2 299.7,814.0 301.5,816.4 C303.3,818.8 304.3,821.5 306.1,823.5 C307.9,825.5 310.2,826.6 312.2,828.6 C314.2,830.6 316.1,833.7 318.3,835.7 C320.5,837.7 322.9,839.3 325.4,840.4 C327.9,841.5 330.8,842.4 333.5,842.4 C336.2,842.4 338.9,840.4 341.6,840.4 C344.3,840.4 347.0,841.7 349.7,842.4 C352.4,843.1 355.3,843.9 357.9,844.8 C360.4,845.7 362.8,846.8 365.0,847.9 C367.2,849.0 368.9,850.6 371.1,851.3 C373.3,852.0 376.2,852.3 378.2,851.9 C380.2,851.5 381.3,850.0 383.2,848.9 C385.1,847.8 387.3,846.0 389.3,845.2 C391.3,844.5 393.5,844.2 395.4,844.4 C397.3,844.6 398.6,846.3 400.5,846.4 C402.4,846.5 404.4,845.1 406.6,844.8 C408.8,844.5 411.4,844.8 413.7,844.8 C416.0,844.8 417.9,844.8 420.3,845.0 C422.8,845.2 426.4,846.0 428.4,846.0 C430.4,846.0 431.0,845.0 432.5,845.0 C434.0,845.0 435.7,846.2 437.6,846.0 C439.5,845.8 441.5,844.7 443.7,844.0 C445.9,843.3 448.8,842.1 450.8,841.9 C452.8,841.6 454.1,842.8 455.8,842.5 C457.5,842.2 458.7,840.5 460.9,839.9 C463.1,839.3 466.3,839.1 469.0,838.9 C471.7,838.7 474.8,839.0 477.2,838.5 C479.6,838.0 481.2,836.0 483.2,835.8 C485.2,835.6 487.3,837.3 489.3,837.3 C491.3,837.3 493.5,835.6 495.4,835.8 C497.3,836.0 498.6,838.4 500.5,838.5 C502.4,838.6 505.0,836.8 506.6,836.4 C508.2,836.0 508.2,836.8 510.0,836.3 C511.8,835.8 514.7,834.0 517.1,833.7 C519.5,833.4 522.0,834.1 524.2,834.7 C526.4,835.3 528.4,837.3 530.3,837.1 C532.2,836.9 533.7,834.7 535.4,833.7 C537.1,832.7 538.8,831.1 540.5,831.2 C542.2,831.3 543.8,833.9 545.5,834.3 C547.2,834.7 548.7,833.6 550.6,833.7 C552.5,833.8 555.0,834.6 556.7,835.1 C558.4,835.6 559.3,836.7 560.8,836.7 C562.3,836.7 564.0,835.1 565.9,835.1 C567.8,835.1 570.0,835.5 572.0,836.7 C574.0,837.9 576.0,841.0 578.0,842.4 C580.0,843.8 582.1,844.4 584.1,844.8 C586.1,845.2 588.0,844.3 590.2,844.8 C592.4,845.3 595.1,846.9 597.3,847.9 C599.5,848.9 601.4,850.3 603.4,850.5 C605.4,850.7 607.3,849.7 609.5,848.9 C611.7,848.1 614.4,847.0 616.6,845.9 C618.8,844.8 620.7,842.9 622.7,842.4 C624.7,841.9 626.9,842.7 628.8,842.8 C630.7,842.9 633.0,843.1 633.9,843.2" fill="none" stroke="#4aa64a" stroke-width="1.40" stroke-linejoin="round" clip-path="url(#cb)"/>
<path d="M17.3,907.7 C18.0,907.3 19.8,905.9 21.3,905.3 C22.8,904.7 24.5,904.7 26.4,904.3 C28.3,903.9 30.6,902.9 32.5,902.8 C34.4,902.7 35.7,903.7 37.6,903.7 C39.5,903.7 41.7,902.9 43.7,902.8 C45.7,902.7 47.3,902.8 49.7,903.2 C52.1,903.6 55.4,905.4 57.9,905.3 C60.4,905.2 62.6,903.6 65.0,902.8 C67.4,901.9 69.6,901.2 72.1,900.2 C74.6,899.2 77.5,897.6 80.2,896.8 C82.9,896.0 85.9,896.3 88.3,895.5 C90.7,894.7 92.5,893.6 94.4,892.1 C96.4,890.6 98.4,887.9 100.0,886.5 C101.6,885.1 102.7,884.7 104.0,884.0 C105.3,883.3 106.5,883.3 108.1,882.5 C109.7,881.7 112.0,880.0 113.7,879.0 C115.4,878.0 116.0,877.2 118.3,876.4 C120.6,875.6 124.7,874.2 127.4,874.0 C130.1,873.8 132.3,874.9 134.5,875.4 C136.7,875.9 138.2,876.9 140.6,876.8 C143.0,876.7 146.0,875.5 148.7,874.8 C151.4,874.0 154.2,872.6 156.9,872.3 C159.6,871.9 162.3,872.4 165.0,872.7 C167.7,873.1 170.1,874.2 173.1,874.4 C176.1,874.6 181.0,874.1 183.2,874.0 C185.4,873.9 185.3,874.3 186.3,873.5 C187.3,872.7 188.2,870.7 189.3,869.3 C190.4,867.9 191.6,866.5 193.0,865.0 C194.4,863.5 196.3,861.9 197.5,860.2 C198.7,858.5 198.6,857.6 200.0,855.0 C201.4,852.4 203.7,848.5 206.1,844.8 C208.5,841.1 211.8,836.3 214.2,832.6 C216.6,828.9 218.3,826.7 220.3,822.5 C222.3,818.3 224.4,810.7 226.4,807.3 C228.4,803.9 230.3,803.6 232.5,802.2 C234.7,800.8 237.6,799.1 239.6,799.1 C241.6,799.1 243.0,800.3 244.7,802.2 C246.4,804.1 247.8,807.8 249.7,810.3 C251.5,812.8 253.8,814.7 255.8,817.4 C257.8,820.1 259.7,823.3 261.9,826.5 C264.1,829.7 266.8,833.5 269.0,836.7 C271.2,839.9 273.1,842.4 275.1,845.8 C277.1,849.2 279.2,853.6 281.2,857.0 C283.2,860.4 284.9,863.6 287.3,866.1 C289.7,868.6 293.3,870.3 295.4,872.2 C297.5,874.1 298.4,875.4 300.0,877.3 C301.6,879.2 303.2,881.5 305.1,883.4 C307.0,885.3 309.2,886.8 311.2,888.5 C313.2,890.2 315.3,891.9 317.3,893.6 C319.3,895.3 321.0,897.6 323.4,898.6 C325.8,899.6 329.1,898.8 331.5,899.6 C333.9,900.5 335.8,902.6 337.6,903.7 C339.5,904.8 340.4,906.0 342.6,906.1 C344.8,906.2 348.1,904.5 350.8,904.1 C353.5,903.7 356.2,903.9 358.9,903.7 C361.6,903.5 364.3,903.4 367.0,903.1 C369.7,902.8 372.4,902.1 375.1,901.7 C377.8,901.3 380.5,901.1 383.2,900.7 C385.9,900.4 388.7,899.9 391.4,899.6 C394.1,899.4 397.2,899.0 399.5,899.2 C401.8,899.4 403.3,901.2 405.1,900.8 C406.9,900.4 407.8,898.1 410.2,896.8 C412.6,895.4 416.6,893.2 419.3,892.7 C422.0,892.2 423.5,894.2 426.4,894.1 C429.3,894.0 434.0,892.2 436.5,892.1 C439.0,892.0 439.9,892.9 441.6,893.3 C443.3,893.7 445.2,895.0 446.7,894.7 C448.2,894.4 448.8,893.1 450.8,891.7 C452.8,890.4 456.2,888.4 458.9,886.6 C461.6,884.8 464.3,882.5 467.0,881.1 C469.7,879.8 472.4,879.5 475.1,878.5 C477.8,877.5 480.6,876.2 483.2,875.4 C485.8,874.6 488.2,874.5 490.4,873.8 C492.6,873.1 494.2,872.5 496.4,871.4 C498.6,870.3 501.3,869.0 503.6,867.3 C505.9,865.6 507.9,862.8 510.0,861.1 C512.1,859.4 514.1,858.4 516.1,857.0 C518.1,855.6 520.2,854.4 522.2,853.0 C524.2,851.6 526.4,850.6 528.3,848.9 C530.2,847.2 531.9,844.7 533.4,842.8 C534.9,840.9 536.2,838.9 537.4,837.7 C538.6,836.5 539.3,835.4 540.5,835.7 C541.7,836.1 543.0,837.6 544.5,839.8 C546.0,842.0 547.7,845.7 549.6,848.9 C551.5,852.1 553.5,855.9 555.7,859.1 C557.9,862.3 560.3,865.2 562.8,868.2 C565.3,871.2 568.2,874.4 570.9,877.3 C573.6,880.2 576.4,883.0 579.1,885.5 C581.8,888.0 584.5,890.4 587.2,892.6 C589.9,894.8 592.6,897.0 595.3,898.7 C598.0,900.4 600.7,901.8 603.4,902.7 C606.1,903.6 608.9,904.0 611.6,904.2 C614.3,904.4 617.2,903.8 619.7,903.8 C622.2,903.8 624.4,903.9 626.8,904.2 C629.2,904.5 632.7,905.2 633.9,905.4" fill="none" stroke="#ec4aec" stroke-width="1.40" stroke-linejoin="round" clip-path="url(#cb)"/>
<path d="M17.3,962.5 C18.1,962.3 20.3,961.6 22.3,961.1 C24.3,960.6 27.0,960.2 29.4,959.7 C31.8,959.2 34.1,958.2 36.5,958.1 C38.9,958.0 41.5,959.4 43.7,959.1 C45.9,958.8 47.9,957.2 49.7,956.4 C51.6,955.6 53.1,954.5 54.8,954.4 C56.5,954.3 58.4,955.5 59.9,956.0 C61.4,956.5 62.5,958.2 64.0,957.7 C65.5,957.2 67.2,954.3 69.0,953.0 C70.8,951.7 73.2,951.0 75.1,950.0 C77.0,949.0 78.8,947.2 80.2,946.9 C81.6,946.5 81.7,948.4 83.2,947.9 C84.7,947.4 86.9,945.2 89.3,943.9 C91.7,942.5 95.7,940.6 97.5,939.8 C99.3,939.0 98.8,940.1 100.0,939.3 C101.2,938.4 103.1,935.9 104.6,934.7 C106.1,933.5 107.4,932.9 109.0,932.0 C110.6,931.1 112.4,930.3 114.2,929.6 C116.0,928.9 118.3,928.4 120.0,928.0 C121.7,927.6 122.3,927.0 124.4,927.2 C126.5,927.4 130.1,928.5 132.5,929.2 C134.9,929.9 136.9,931.4 138.6,931.6 C140.3,931.8 140.9,930.1 142.6,930.2 C144.3,930.3 146.7,931.6 148.7,932.2 C150.7,932.8 152.8,933.5 154.8,933.7 C156.8,934.0 159.2,933.4 160.9,933.7 C162.6,934.0 163.7,935.5 165.0,935.3 C166.3,935.0 167.2,933.0 169.0,932.2 C170.8,931.5 173.7,931.5 176.1,930.8 C178.5,930.1 181.0,929.3 183.2,928.2 C185.4,927.1 187.1,925.1 189.3,924.1 C191.5,923.1 194.6,923.1 196.4,922.1 C198.2,921.1 198.6,919.6 200.0,917.9 C201.4,916.2 203.1,915.2 205.1,911.8 C207.1,908.4 209.8,902.3 212.2,897.6 C214.6,892.9 217.1,887.1 219.3,883.4 C221.5,879.7 223.4,878.2 225.4,875.3 C227.4,872.4 229.7,868.1 231.5,866.1 C233.3,864.1 234.8,863.1 236.5,863.1 C238.2,863.1 239.6,864.1 241.6,866.1 C243.6,868.1 246.3,872.1 248.7,875.3 C251.1,878.5 253.4,881.7 255.8,885.4 C258.2,889.1 260.3,893.9 262.9,897.6 C265.4,901.3 268.4,904.4 271.1,907.8 C273.8,911.2 276.5,914.9 279.2,917.9 C281.9,920.9 284.6,923.3 287.3,926.0 C290.0,928.7 293.3,932.2 295.4,934.2 C297.5,936.2 298.2,936.5 300.0,938.2 C301.8,939.9 303.9,942.4 306.1,944.3 C308.3,946.2 310.8,948.0 313.2,949.4 C315.6,950.8 318.1,951.7 320.3,952.4 C322.5,953.1 324.4,952.8 326.4,953.5 C328.4,954.2 330.1,956.1 332.5,956.9 C334.9,957.7 337.6,957.5 340.6,958.1 C343.7,958.7 347.8,960.5 350.8,960.6 C353.9,960.7 356.5,959.2 358.9,958.9 C361.3,958.5 363.0,959.1 365.0,958.5 C367.0,957.9 368.7,956.1 371.1,955.5 C373.5,954.9 376.8,954.9 379.2,954.9 C381.6,954.9 383.6,955.1 385.3,955.5 C387.0,955.9 387.6,957.2 389.3,957.5 C391.0,957.8 393.6,957.2 395.4,957.5 C397.2,957.8 397.9,959.4 400.0,959.5 C402.1,959.6 405.1,958.7 408.1,958.3 C411.2,957.9 414.6,957.5 418.3,957.1 C422.0,956.8 427.1,955.9 430.5,956.2 C433.9,956.5 436.2,958.5 438.6,958.7 C441.0,959.0 442.9,957.8 444.7,957.7 C446.5,957.6 447.3,958.8 449.7,958.3 C452.1,957.8 456.0,956.1 458.9,954.6 C461.8,953.1 464.1,951.4 467.0,949.5 C469.9,947.6 473.1,945.2 476.1,943.5 C479.2,941.8 482.1,940.8 485.3,939.4 C488.5,938.0 492.3,936.9 495.4,935.3 C498.4,933.7 501.2,931.7 503.6,929.8 C506.0,927.9 507.9,925.2 510.0,924.1 C512.1,923.0 514.1,924.2 516.1,923.0 C518.1,921.8 520.2,919.2 522.2,917.0 C524.2,914.8 526.3,912.2 528.3,909.8 C530.3,907.4 532.4,904.6 534.4,902.7 C536.4,900.9 538.8,898.9 540.5,898.7 C542.2,898.5 543.0,899.4 544.5,901.3 C546.0,903.1 547.9,907.0 549.6,909.8 C551.3,912.6 552.5,915.6 554.7,918.0 C556.9,920.4 560.1,921.7 562.8,924.1 C565.5,926.5 568.0,929.5 570.9,932.2 C573.8,934.9 577.2,938.1 580.1,940.3 C583.0,942.5 585.3,943.7 588.2,945.4 C591.1,947.1 594.2,948.8 597.3,950.5 C600.3,952.2 603.5,953.9 606.5,955.5 C609.5,957.1 612.7,959.0 615.6,960.2 C618.5,961.4 621.4,962.0 623.8,962.7 C626.2,963.5 628.1,964.5 629.8,964.7 C631.5,964.9 633.2,963.9 633.9,963.7" fill="none" stroke="#4646ee" stroke-width="1.40" stroke-linejoin="round" clip-path="url(#cb)"/>
<path d="M17.3,1018.6 C18.1,1018.1 20.5,1016.6 22.3,1015.9 C24.1,1015.2 26.2,1014.4 28.4,1014.5 C30.6,1014.6 33.1,1016.4 35.5,1016.5 C37.9,1016.6 40.1,1015.3 42.6,1015.3 C45.1,1015.3 48.1,1016.0 50.8,1016.5 C53.5,1017.0 56.5,1018.4 58.9,1018.0 C61.3,1017.6 62.8,1015.3 65.0,1013.9 C67.2,1012.5 69.7,1011.4 72.1,1009.8 C74.5,1008.2 77.0,1005.6 79.2,1004.4 C81.4,1003.1 83.4,1002.6 85.3,1002.3 C87.2,1002.0 88.6,1003.3 90.4,1002.7 C92.2,1002.1 94.8,999.5 96.4,998.7 C98.0,997.9 98.5,999.1 100.0,997.8 C101.5,996.5 103.2,993.0 105.1,991.1 C107.0,989.2 108.8,987.4 111.2,986.4 C113.6,985.4 116.9,985.1 119.3,985.0 C121.7,984.9 123.4,985.7 125.4,985.6 C127.4,985.5 129.3,984.4 131.5,984.4 C133.7,984.4 136.1,985.6 138.6,985.6 C141.1,985.6 144.3,984.3 146.7,984.4 C149.1,984.5 151.1,985.6 152.8,986.4 C154.5,987.2 155.4,989.6 156.9,989.1 C158.4,988.6 160.2,984.1 161.9,983.6 C163.6,983.1 165.1,985.8 167.0,986.0 C168.9,986.2 170.7,985.2 173.1,985.0 C175.5,984.8 178.8,985.8 181.2,985.0 C183.6,984.2 185.3,982.0 187.3,980.0 C189.3,978.0 191.3,975.0 193.4,972.8 C195.5,970.6 197.9,969.1 200.0,966.7 C202.1,964.3 203.7,962.2 206.1,958.5 C208.5,954.8 211.7,949.0 214.2,944.3 C216.7,939.6 218.9,934.3 221.3,930.1 C223.7,925.9 226.2,921.4 228.4,918.9 C230.6,916.4 232.5,916.2 234.5,914.9 C236.5,913.5 238.6,910.5 240.6,910.8 C242.6,911.1 244.7,914.0 246.7,916.9 C248.7,919.8 250.4,924.2 252.8,928.1 C255.2,932.0 258.2,936.2 260.9,940.3 C263.6,944.3 266.3,948.7 269.0,952.4 C271.7,956.1 274.5,959.2 277.2,962.6 C279.9,966.0 282.7,969.1 285.3,972.7 C287.9,976.4 290.5,981.3 293.0,984.5 C295.5,987.7 298.0,989.7 300.3,992.0 C302.6,994.3 304.9,996.6 307.0,998.3 C309.1,1000.0 311.0,1000.7 313.1,1002.3 C315.2,1003.9 317.4,1006.1 319.5,1007.8 C321.6,1009.5 323.6,1011.0 325.9,1012.4 C328.2,1013.8 330.9,1014.9 333.3,1016.0 C335.8,1017.1 338.3,1018.9 340.6,1019.2 C342.9,1019.5 345.0,1017.8 347.1,1017.7 C349.2,1017.6 351.4,1018.6 353.5,1018.8 C355.6,1018.9 358.1,1019.1 359.9,1018.6 C361.7,1018.1 362.8,1016.9 364.5,1016.0 C366.2,1015.1 367.9,1013.6 370.0,1013.3 C372.1,1013.0 375.2,1014.4 377.4,1014.2 C379.5,1014.1 380.8,1013.2 382.9,1012.4 C385.0,1011.6 387.9,1009.4 390.0,1009.3 C392.1,1009.1 394.1,1010.8 395.8,1011.5 C397.5,1012.2 398.3,1013.0 400.0,1013.5 C401.7,1014.0 403.7,1014.8 406.1,1014.5 C408.5,1014.2 411.3,1012.0 414.2,1011.9 C417.1,1011.8 420.3,1014.1 423.4,1013.9 C426.4,1013.7 429.5,1011.5 432.5,1010.5 C435.5,1009.5 438.3,1008.7 441.3,1008.0 C444.3,1007.3 447.6,1007.7 450.5,1006.5 C453.4,1005.3 455.9,1001.9 458.8,1000.6 C461.7,999.3 464.8,999.2 468.0,998.8 C471.2,998.3 475.0,999.0 478.1,997.9 C481.2,996.8 483.5,994.7 486.4,992.4 C489.3,990.1 492.2,986.7 495.6,984.1 C499.0,981.5 504.2,978.3 506.6,976.8 C509.0,975.3 508.1,976.2 510.0,975.0 C511.9,973.8 516.0,971.2 518.0,969.5 C520.0,967.8 520.3,966.5 522.2,964.7 C524.1,962.9 527.1,960.8 529.3,958.6 C531.5,956.4 533.4,953.7 535.4,951.5 C537.4,949.3 539.8,945.6 541.5,945.4 C543.2,945.2 544.0,948.0 545.5,950.5 C547.0,953.0 548.7,957.2 550.6,960.6 C552.5,964.0 554.3,967.8 556.7,970.8 C559.1,973.8 562.6,977.0 564.8,978.9 C567.0,980.8 568.0,980.6 569.7,982.0 C571.4,983.4 572.9,984.5 575.0,987.0 C577.1,989.5 579.4,994.2 582.1,997.2 C584.8,1000.2 588.4,1002.9 591.3,1005.3 C594.2,1007.7 596.4,1010.2 599.4,1011.4 C602.4,1012.6 606.1,1012.1 609.5,1012.6 C612.9,1013.1 616.7,1014.0 619.7,1014.5 C622.8,1015.0 625.4,1015.1 627.8,1015.5 C630.2,1015.9 632.9,1016.8 633.9,1017.1" fill="none" stroke="#e64646" stroke-width="1.40" stroke-linejoin="round" clip-path="url(#cb)"/>
<path d="M17.9,1072.2 C18.6,1072.2 20.6,1072.4 22.3,1072.2 C24.1,1072.0 26.4,1071.8 28.4,1071.2 C30.4,1070.6 32.3,1069.5 34.5,1068.7 C36.7,1068.0 39.2,1066.9 41.6,1066.7 C44.0,1066.5 46.2,1067.1 48.7,1067.5 C51.2,1067.9 54.5,1069.2 56.9,1069.1 C59.3,1069.0 60.7,1067.9 62.9,1067.1 C65.1,1066.3 67.9,1065.1 70.1,1064.1 C72.3,1063.1 74.2,1061.5 76.1,1061.0 C77.9,1060.5 79.3,1061.8 81.2,1061.0 C83.1,1060.2 85.3,1057.8 87.3,1056.5 C89.3,1055.2 91.4,1054.4 93.4,1052.9 C95.4,1051.5 97.4,1049.8 99.5,1047.8 C101.6,1045.8 104.1,1042.8 106.1,1040.9 C108.1,1039.1 110.0,1037.8 111.7,1036.7 C113.4,1035.6 113.9,1035.0 116.0,1034.5 C118.1,1034.0 121.7,1033.7 124.4,1033.8 C127.2,1033.9 129.8,1034.7 132.5,1035.2 C135.2,1035.7 138.2,1036.9 140.6,1036.8 C143.0,1036.7 144.5,1034.7 146.7,1034.4 C148.9,1034.1 151.4,1034.5 153.8,1035.2 C156.2,1035.9 158.9,1037.5 160.9,1038.4 C162.9,1039.3 164.3,1040.4 166.0,1040.5 C167.7,1040.6 169.1,1039.6 171.1,1038.8 C173.1,1038.0 175.5,1037.0 178.2,1035.8 C180.9,1034.6 184.8,1033.1 187.3,1031.7 C189.8,1030.3 191.0,1029.0 193.0,1027.5 C195.0,1026.0 197.8,1024.6 199.5,1022.6 C201.2,1020.6 202.2,1017.9 203.5,1015.5 C204.8,1013.1 205.8,1011.5 207.6,1008.4 C209.4,1005.3 212.1,1001.0 214.2,997.1 C216.3,993.2 218.3,989.3 220.3,984.9 C222.3,980.5 224.4,974.9 226.4,970.7 C228.4,966.5 230.6,962.1 232.5,959.5 C234.4,956.9 235.7,955.4 237.6,954.9 C239.5,954.4 241.7,955.2 243.7,956.5 C245.7,957.8 247.8,960.6 249.7,962.6 C251.5,964.6 253.1,965.3 254.8,968.7 C256.5,972.1 258.0,979.4 259.9,982.9 C261.8,986.4 264.0,987.6 266.0,990.0 C268.0,992.4 270.1,994.4 272.1,997.1 C274.1,999.8 276.0,1003.5 278.2,1006.2 C280.4,1008.9 283.2,1011.0 285.3,1013.4 C287.4,1015.8 289.1,1017.5 291.0,1020.6 C292.9,1023.7 294.5,1028.6 296.5,1031.7 C298.5,1034.8 301.0,1037.5 303.0,1039.0 C305.0,1040.5 306.5,1039.4 308.5,1040.5 C310.5,1041.6 312.6,1043.7 314.9,1045.4 C317.2,1047.2 320.1,1049.3 322.3,1051.0 C324.5,1052.7 326.1,1054.2 327.8,1055.6 C329.5,1057.0 330.9,1058.7 332.4,1059.2 C333.9,1059.8 335.3,1058.6 337.0,1058.9 C338.7,1059.2 340.7,1060.4 342.5,1061.1 C344.3,1061.8 346.0,1063.3 348.0,1063.3 C350.0,1063.3 352.6,1061.2 354.4,1061.1 C356.2,1060.9 357.2,1062.5 359.0,1062.4 C360.8,1062.3 363.1,1061.2 365.4,1060.7 C367.7,1060.2 370.4,1059.9 372.8,1059.2 C375.2,1058.5 377.7,1057.0 380.1,1056.5 C382.6,1056.0 385.2,1055.8 387.5,1055.9 C389.8,1056.1 391.8,1056.7 393.9,1057.4 C396.0,1058.2 398.2,1059.7 400.0,1060.4 C401.8,1061.1 402.5,1061.8 404.6,1061.6 C406.8,1061.4 410.3,1059.1 412.9,1059.1 C415.5,1059.1 417.8,1061.1 420.2,1061.6 C422.6,1062.1 425.2,1061.9 427.6,1062.2 C430.1,1062.5 432.4,1063.4 434.9,1063.5 C437.3,1063.6 440.5,1063.2 442.3,1062.7 C444.1,1062.2 444.5,1061.6 445.9,1060.4 C447.3,1059.2 448.6,1056.7 450.5,1055.4 C452.4,1054.1 455.0,1053.1 457.0,1052.5 C459.0,1051.9 460.7,1051.6 462.5,1051.7 C464.3,1051.8 466.3,1053.3 468.0,1053.0 C469.7,1052.7 471.1,1051.2 472.6,1049.9 C474.1,1048.6 475.7,1046.6 477.2,1045.1 C478.7,1043.6 480.0,1042.0 481.8,1040.7 C483.6,1039.4 485.9,1038.8 488.2,1037.4 C490.5,1036.0 493.5,1033.7 495.6,1032.2 C497.8,1030.7 499.4,1029.9 501.1,1028.2 C502.8,1026.5 504.3,1024.0 505.7,1022.3 C507.1,1020.6 507.9,1018.6 509.3,1018.1 C510.7,1017.6 512.4,1019.7 514.0,1019.3 C515.6,1018.9 517.4,1016.8 519.0,1015.7 C520.6,1014.6 522.2,1014.8 523.9,1012.8 C525.5,1010.8 527.2,1006.8 528.9,1003.8 C530.6,1000.8 532.2,996.6 533.9,994.8 C535.6,993.0 537.2,992.6 538.9,992.8 C540.5,993.0 542.1,993.3 543.8,995.8 C545.4,998.3 547.0,1004.5 548.8,1007.8 C550.6,1011.1 552.6,1013.1 554.8,1015.7 C557.0,1018.4 559.3,1021.4 561.8,1023.7 C564.3,1026.0 567.1,1027.2 569.7,1029.7 C572.4,1032.2 575.2,1035.8 577.7,1038.6 C580.2,1041.4 582.4,1044.1 584.7,1046.6 C587.0,1049.1 589.3,1051.0 591.6,1053.6 C593.9,1056.1 596.3,1059.8 598.6,1061.9 C600.9,1064.1 603.1,1065.3 605.6,1066.5 C608.1,1067.7 610.7,1068.2 613.5,1069.1 C616.3,1070.0 620.0,1071.9 622.5,1071.9 C625.0,1071.9 626.7,1069.2 628.5,1069.1 C630.3,1069.0 632.6,1070.8 633.4,1071.1" fill="none" stroke="#333333" stroke-width="1.40" stroke-linejoin="round" clip-path="url(#cb)"/>
<rect x="19.3" y="4.1" width="615.2" height="502.4" stroke="#111" stroke-width="1.7" fill="none"/>
<path d="M17.6,597.3 V1089.8 H634.3 V597.3" stroke="#111" stroke-width="1.7" fill="none"/>
<line x1="634.0" y1="506.5" x2="634.0" y2="519.6" stroke="#111" stroke-width="1.6"/>
<line x1="634.0" y1="1089.8" x2="634.0" y2="1102.3" stroke="#111" stroke-width="1.6"/>
<line x1="603.3" y1="506.5" x2="603.3" y2="513.5" stroke="#111" stroke-width="1.6"/>
<line x1="603.2" y1="1089.8" x2="603.2" y2="1096.4" stroke="#111" stroke-width="1.6"/>
<line x1="572.5" y1="506.5" x2="572.5" y2="519.6" stroke="#111" stroke-width="1.6"/>
<line x1="572.4" y1="1089.8" x2="572.4" y2="1102.3" stroke="#111" stroke-width="1.6"/>
<line x1="541.8" y1="506.5" x2="541.8" y2="513.5" stroke="#111" stroke-width="1.6"/>
<line x1="541.5" y1="1089.8" x2="541.5" y2="1096.4" stroke="#111" stroke-width="1.6"/>
<line x1="511.0" y1="506.5" x2="511.0" y2="519.6" stroke="#111" stroke-width="1.6"/>
<line x1="510.7" y1="1089.8" x2="510.7" y2="1102.3" stroke="#111" stroke-width="1.6"/>
<line x1="480.3" y1="506.5" x2="480.3" y2="513.5" stroke="#111" stroke-width="1.6"/>
<line x1="479.9" y1="1089.8" x2="479.9" y2="1096.4" stroke="#111" stroke-width="1.6"/>
<line x1="449.6" y1="506.5" x2="449.6" y2="519.6" stroke="#111" stroke-width="1.6"/>
<line x1="449.1" y1="1089.8" x2="449.1" y2="1102.3" stroke="#111" stroke-width="1.6"/>
<line x1="418.8" y1="506.5" x2="418.8" y2="513.5" stroke="#111" stroke-width="1.6"/>
<line x1="418.3" y1="1089.8" x2="418.3" y2="1096.4" stroke="#111" stroke-width="1.6"/>
<line x1="388.1" y1="506.5" x2="388.1" y2="519.6" stroke="#111" stroke-width="1.6"/>
<line x1="387.4" y1="1089.8" x2="387.4" y2="1102.3" stroke="#111" stroke-width="1.6"/>
<line x1="357.3" y1="506.5" x2="357.3" y2="513.5" stroke="#111" stroke-width="1.6"/>
<line x1="356.6" y1="1089.8" x2="356.6" y2="1096.4" stroke="#111" stroke-width="1.6"/>
<line x1="326.6" y1="506.5" x2="326.6" y2="519.6" stroke="#111" stroke-width="1.6"/>
<line x1="325.8" y1="1089.8" x2="325.8" y2="1102.3" stroke="#111" stroke-width="1.6"/>
<line x1="295.9" y1="506.5" x2="295.9" y2="513.5" stroke="#111" stroke-width="1.6"/>
<line x1="295.0" y1="1089.8" x2="295.0" y2="1096.4" stroke="#111" stroke-width="1.6"/>
<line x1="265.1" y1="506.5" x2="265.1" y2="519.6" stroke="#111" stroke-width="1.6"/>
<line x1="264.2" y1="1089.8" x2="264.2" y2="1102.3" stroke="#111" stroke-width="1.6"/>
<line x1="234.4" y1="506.5" x2="234.4" y2="513.5" stroke="#111" stroke-width="1.6"/>
<line x1="233.3" y1="1089.8" x2="233.3" y2="1096.4" stroke="#111" stroke-width="1.6"/>
<line x1="203.6" y1="506.5" x2="203.6" y2="519.6" stroke="#111" stroke-width="1.6"/>
<line x1="202.5" y1="1089.8" x2="202.5" y2="1102.3" stroke="#111" stroke-width="1.6"/>
<line x1="172.9" y1="506.5" x2="172.9" y2="513.5" stroke="#111" stroke-width="1.6"/>
<line x1="171.7" y1="1089.8" x2="171.7" y2="1096.4" stroke="#111" stroke-width="1.6"/>
<line x1="142.2" y1="506.5" x2="142.2" y2="519.6" stroke="#111" stroke-width="1.6"/>
<line x1="140.9" y1="1089.8" x2="140.9" y2="1102.3" stroke="#111" stroke-width="1.6"/>
<line x1="111.4" y1="506.5" x2="111.4" y2="513.5" stroke="#111" stroke-width="1.6"/>
<line x1="110.1" y1="1089.8" x2="110.1" y2="1096.4" stroke="#111" stroke-width="1.6"/>
<line x1="80.7" y1="506.5" x2="80.7" y2="519.6" stroke="#111" stroke-width="1.6"/>
<line x1="79.2" y1="1089.8" x2="79.2" y2="1102.3" stroke="#111" stroke-width="1.6"/>
<line x1="49.9" y1="506.5" x2="49.9" y2="513.5" stroke="#111" stroke-width="1.6"/>
<line x1="48.4" y1="1089.8" x2="48.4" y2="1096.4" stroke="#111" stroke-width="1.6"/>
<line x1="19.2" y1="506.5" x2="19.2" y2="519.6" stroke="#111" stroke-width="1.6"/>
<line x1="17.6" y1="1089.8" x2="17.6" y2="1102.3" stroke="#111" stroke-width="1.6"/>
<text x="634.6" y="546" font-size="23.2" text-anchor="middle">0</text>
<text x="634.3" y="1126.6" font-size="21" text-anchor="middle">0</text>
<text x="573.1" y="546" font-size="23.2" text-anchor="middle">20</text>
<text x="572.7" y="1126.6" font-size="21" text-anchor="middle">20</text>
<text x="511.6" y="546" font-size="23.2" text-anchor="middle">40</text>
<text x="511.0" y="1126.6" font-size="21" text-anchor="middle">40</text>
<text x="450.2" y="546" font-size="23.2" text-anchor="middle">60</text>
<text x="449.4" y="1126.6" font-size="21" text-anchor="middle">60</text>
<text x="388.7" y="546" font-size="23.2" text-anchor="middle">80</text>
<text x="387.7" y="1126.6" font-size="21" text-anchor="middle">80</text>
<text x="327.2" y="546" font-size="23.2" text-anchor="middle">100</text>
<text x="326.1" y="1126.6" font-size="21" text-anchor="middle">100</text>
<text x="265.7" y="546" font-size="23.2" text-anchor="middle">120</text>
<text x="264.5" y="1126.6" font-size="21" text-anchor="middle">120</text>
<text x="204.2" y="546" font-size="23.2" text-anchor="middle">140</text>
<text x="202.8" y="1126.6" font-size="21" text-anchor="middle">140</text>
<text x="142.8" y="546" font-size="23.2" text-anchor="middle">160</text>
<text x="141.2" y="1126.6" font-size="21" text-anchor="middle">160</text>
<text x="81.3" y="546" font-size="23.2" text-anchor="middle">180</text>
<text x="79.5" y="1126.6" font-size="21" text-anchor="middle">180</text>
<text x="19.8" y="546" font-size="23.2" text-anchor="middle">200</text>
<text x="17.9" y="1126.6" font-size="21" text-anchor="middle">200</text>
<line x1="66.2" y1="191.2" x2="77.2" y2="176.5" stroke="#000" stroke-width="2.3" stroke-linecap="butt"/>
<line x1="104.2" y1="188.0" x2="115.2" y2="166.7" stroke="#000" stroke-width="2.3" stroke-linecap="butt"/>
<line x1="166.0" y1="85.4" x2="182.2" y2="111.8" stroke="#000" stroke-width="2.3" stroke-linecap="butt"/>
<line x1="221.3" y1="87.0" x2="230.9" y2="127.6" stroke="#000" stroke-width="2.3" stroke-linecap="butt"/>
<line x1="253.8" y1="87.0" x2="246.3" y2="126.0" stroke="#000" stroke-width="2.3" stroke-linecap="butt"/>
<line x1="280.2" y1="51.5" x2="281.8" y2="122.5" stroke="#000" stroke-width="2.3" stroke-linecap="butt"/>
<line x1="326.0" y1="70.4" x2="303.7" y2="116.4" stroke="#000" stroke-width="2.3" stroke-linecap="butt"/>
<line x1="383.2" y1="110.4" x2="389.7" y2="147.9" stroke="#000" stroke-width="2.3" stroke-linecap="butt"/>
<line x1="425.4" y1="92.4" x2="431.5" y2="119.8" stroke="#000" stroke-width="2.3" stroke-linecap="butt"/>
<line x1="431.5" y1="30.5" x2="460.5" y2="20.9" stroke="#000" stroke-width="2.3" stroke-linecap="butt"/>
<line x1="511.3" y1="135.0" x2="507.2" y2="150.3" stroke="#000" stroke-width="2.3" stroke-linecap="butt"/>
<line x1="537.0" y1="144.7" x2="536.0" y2="160.5" stroke="#000" stroke-width="2.3" stroke-linecap="butt"/>
<line x1="558.3" y1="144.7" x2="551.6" y2="169.1" stroke="#000" stroke-width="2.3" stroke-linecap="butt"/>
<line x1="596.3" y1="166.6" x2="589.8" y2="188.4" stroke="#000" stroke-width="2.3" stroke-linecap="butt"/>
<line x1="46.3" y1="477.0" x2="81.2" y2="458.7" stroke="#000" stroke-width="2.3" stroke-linecap="butt"/>
<line x1="105.1" y1="463.8" x2="115.2" y2="439.4" stroke="#000" stroke-width="2.3" stroke-linecap="butt"/>
<line x1="160.7" y1="408.8" x2="184.6" y2="396.0" stroke="#000" stroke-width="2.3" stroke-linecap="butt"/>
<line x1="235.5" y1="353.7" x2="239.6" y2="374.0" stroke="#000" stroke-width="2.3" stroke-linecap="butt"/>
<line x1="249.7" y1="339.5" x2="253.8" y2="366.9" stroke="#000" stroke-width="2.3" stroke-linecap="butt"/>
<line x1="282.8" y1="329.3" x2="285.3" y2="350.7" stroke="#000" stroke-width="2.3" stroke-linecap="butt"/>
<line x1="404.1" y1="372.6" x2="432.5" y2="371.2" stroke="#000" stroke-width="2.3" stroke-linecap="butt"/>
<line x1="439.6" y1="326.9" x2="464.0" y2="309.6" stroke="#000" stroke-width="2.3" stroke-linecap="butt"/>
<line x1="102.5" y1="756.8" x2="113.9" y2="787.3" stroke="#000" stroke-width="2.3" stroke-linecap="butt"/>
<line x1="540.9" y1="812.3" x2="540.9" y2="830.6" stroke="#000" stroke-width="2.3" stroke-linecap="butt"/>
<path d="M211.6,600.3 Q221,595.4 233.6,596.5 Q221,599.6 211.6,600.3 Z" fill="#000" stroke="#000" stroke-width="0.8"/>
<text transform="translate(35.28,44.47) scale(1.062,1)" font-size="27.60">(A)</text>
<text transform="translate(25.58,180.60) scale(0.930,1)" font-size="22.80" letter-spacing="2.18">FA1</text>
<text transform="translate(25.38,261.50) scale(0.930,1)" font-size="22.80" letter-spacing="2.34">FA2</text>
<text transform="translate(26.08,333.57) scale(0.930,1)" font-size="22.80" letter-spacing="2.33">FA3</text>
<text transform="translate(25.08,398.20) scale(0.930,1)" font-size="22.80" letter-spacing="2.16">FA4</text>
<text transform="translate(25.68,464.97) scale(0.930,1)" font-size="22.80" letter-spacing="2.55">FA5</text>
<text x="72.75" y="170.94" font-size="16.00" style="font-family:'Liberation Sans',sans-serif">185</text>
<text x="106.29" y="161.00" font-size="17.60">171</text>
<text x="146.22" y="77.30" font-size="17.60">147</text>
<text x="203.14" y="78.32" font-size="17.60">131</text>
<text x="245.46" y="76.22" font-size="17.60">126</text>
<text x="263.84" y="43.82" font-size="17.60">113</text>
<text x="331.17" y="62.62" font-size="17.60">107</text>
<text x="375.12" y="95.92" font-size="17.60">79</text>
<text x="412.46" y="80.62" font-size="17.60">66</text>
<text x="406.96" y="36.82" font-size="17.60">56</text>
<text x="502.41" y="123.50" font-size="17.60">41</text>
<text x="530.69" y="132.32" font-size="17.60">32</text>
<text x="555.26" y="137.02" font-size="17.60">26</text>
<text x="592.00" y="154.62" font-size="17.60">15</text>
<text x="76.19" y="445.32" font-size="17.60">191</text>
<text x="107.34" y="437.40" font-size="17.60">171</text>
<text x="142.17" y="429.20" font-size="17.60">147</text>
<text x="216.07" y="349.60" font-size="17.60">127</text>
<text x="232.90" y="330.22" font-size="17.60">123</text>
<text x="267.39" y="319.02" font-size="17.60">113</text>
<text x="382.21" y="380.92" font-size="17.60">66</text>
<text x="429.51" y="346.42" font-size="17.60">55</text>
<text x="220.40" y="590.60" font-size="23.40">Chemical shift (ppm)</text>
<text transform="translate(30.86,624.37) scale(1.030,1)" font-size="29.00">(B)</text>
<text transform="translate(23.18,829.50) scale(0.930,1)" font-size="22.80" letter-spacing="1.17">HA1</text>
<text transform="translate(24.58,894.80) scale(0.930,1)" font-size="22.80" letter-spacing="1.54">HA2</text>
<text transform="translate(23.68,949.77) scale(0.930,1)" font-size="22.80" letter-spacing="1.43">HA3</text>
<text transform="translate(24.08,1007.80) scale(0.930,1)" font-size="22.80" letter-spacing="2.12">HA4</text>
<text transform="translate(25.08,1055.77) scale(0.930,1)" font-size="22.80" letter-spacing="2.55">HA5</text>
<text x="79.45" y="746.72" font-size="17.60">168</text>
<text x="196.15" y="617.82" font-size="17.60">128</text>
<text x="531.99" y="805.02" font-size="17.60">30</text>
<text x="219.45" y="1174.90" font-size="23.40">Chemical shift (ppm)</text>
</svg></body></html>
